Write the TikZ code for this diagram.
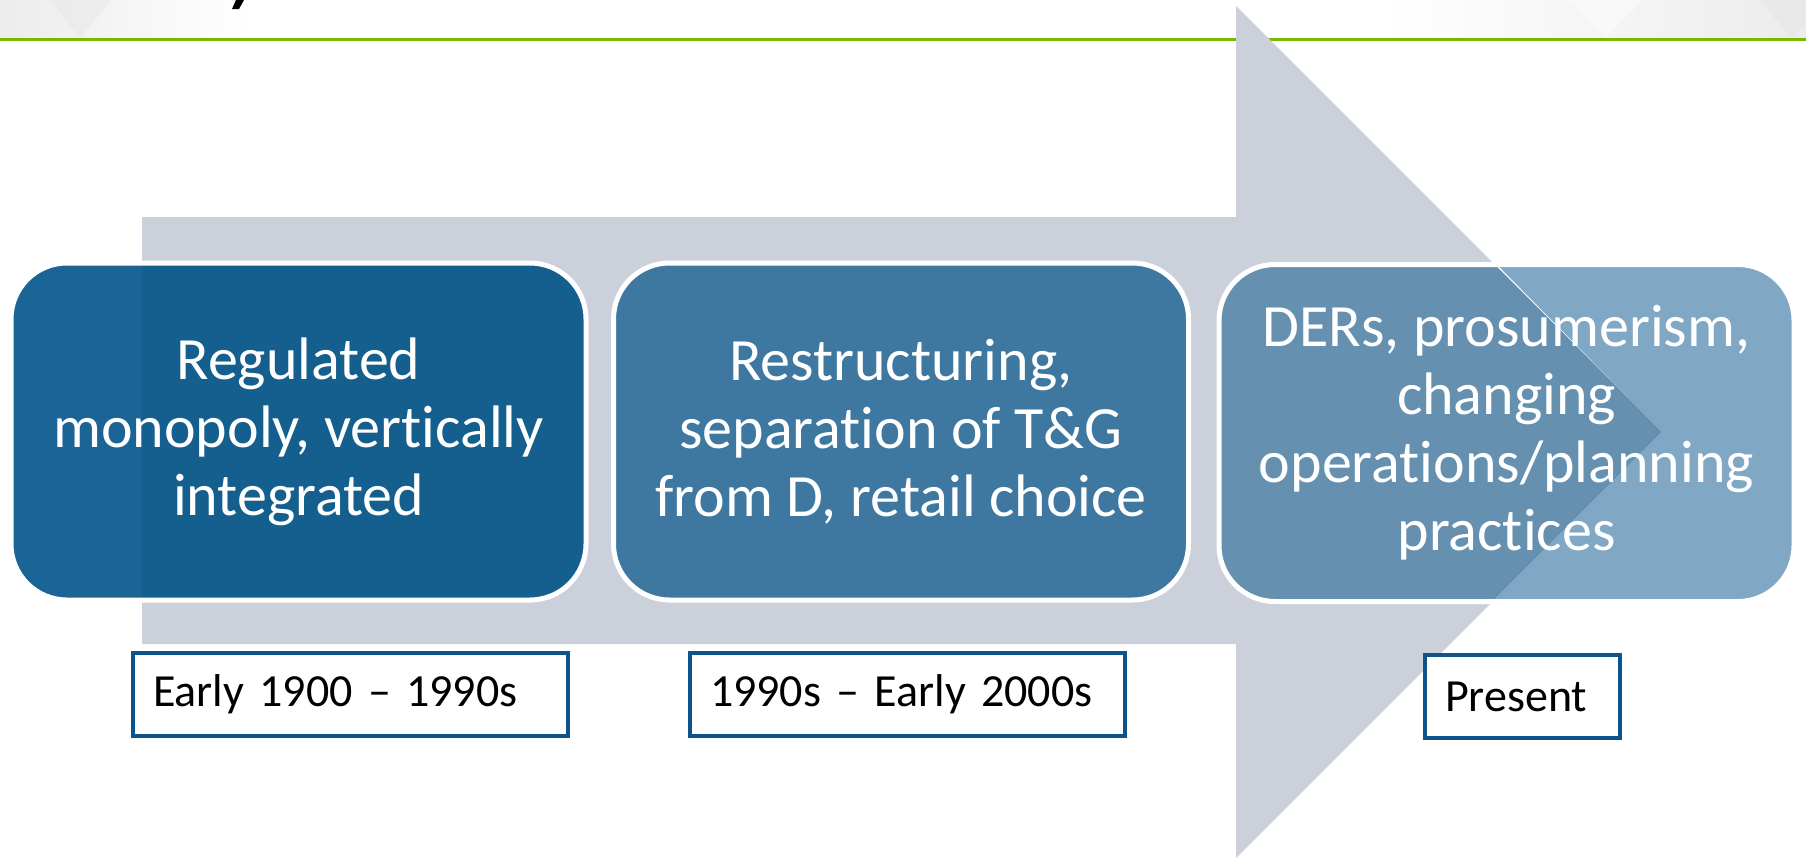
\documentclass[tikz,border=0pt]{standalone}
\usepackage{fontspec}
\setmainfont{Carlito}[RawFeature={-liga,-clig,-calt,-dlig}]
\newcommand{\ti}{t\kern0pt i}
\definecolor{arrowgrey}{RGB}{203,208,219}
\definecolor{topgreen}{RGB}{118,185,0}
\definecolor{boxAin}{RGB}{21,95,143}
\definecolor{boxAout}{RGB}{27,101,150}
\definecolor{boxB}{RGB}{62,120,161}
\definecolor{boxCin}{RGB}{102,144,176}
\definecolor{boxCout}{RGB}{128,168,197}
\definecolor{datecol}{RGB}{14,84,140}
\definecolor{topgrey}{RGB}{236,236,236}
\begin{document}
\begin{tikzpicture}[x=1pt,y=-1pt,
  stagebox/.style={draw=white, line width=5pt, rounded corners=56pt,
    minimum width=575pt, minimum height=337pt, text=white, align=center,
    font=\fontsize{60}{68}\selectfont, inner sep=0pt},
  datebox/.style={draw=datecol, line width=4pt, fill=white, minimum height=83pt,
    inner xsep=20pt, align=left, font=\fontsize{46}{52}\selectfont, anchor=west}]
\useasboundingbox (0,0) rectangle (1806,857);
% top decoration
\shade[left color=topgrey, right color=white] (0,0) rectangle (250,38);
\shade[left color=white, right color=topgrey] (1380,0) rectangle (1806,38);
\fill[black!10, opacity=0.45] (50,0) -- (111,0) -- (80,38) -- cycle;
\fill[white, opacity=0.4] (1569,0) -- (1643,0) -- (1606,38) -- cycle;
\fill[black!10, opacity=0.5] (1760,0) -- (1830,0) -- (1791,38) -- cycle;
\fill[black] (236,0) -- (244,0) -- (239,9) -- (232,9) -- cycle;
\fill[topgreen] (0,38) rectangle (1806,41);
% big arrow
\fill[arrowgrey] (142,217) -- (1236,217) -- (1236,6) -- (1662,432) -- (1236,858)
  -- (1236,644) -- (142,644) -- cycle;
% box 1 fills
\fill[boxAout, rounded corners=56pt] (11,263) rectangle (586,600);
\begin{scope}
  \clip (142,217) -- (1236,217) -- (1236,6) -- (1662,432) -- (1236,858) -- (1236,644) -- (142,644) -- cycle;
  \fill[boxAin, rounded corners=56pt] (11,263) rectangle (586,600);
  \fill[boxCin, rounded corners=56pt] (1219,263) rectangle (1794,600);
\end{scope}
\node[stagebox] (s1) at (298.5,431.5) {Regulated\\monopoly, vertically\\integrated};
\node[stagebox, fill=boxB] (s2) at (901,431.5) {Restructuring,\\separa\ti on of T\&G\\from D, retail choice};
% box 3 fills: outside part
\begin{scope}
  \clip (1236,0) -- (1662,432) -- (1236,858) -- (1806,858) -- (1806,0) -- cycle;
  \fill[boxCout, rounded corners=56pt] (1219,263) rectangle (1794,600);
\end{scope}
\node[stagebox] (s3) at (1506.5,433) {DERs, prosumerism,\\changing\\opera\ti ons/planning\\prac\ti ces};
% date boxes
\node[datebox, minimum width=435pt, text width=395pt] (d1) at (131,694.5) {Early 1900 – 1990s};
\node[datebox, minimum width=435pt, text width=395pt] (d2) at (688,694.5) {1990s – Early 2000s};
\node[datebox, minimum width=195pt, text width=155pt] (d3) at (1423,696.5) {Present};
\end{tikzpicture}
\end{document}
